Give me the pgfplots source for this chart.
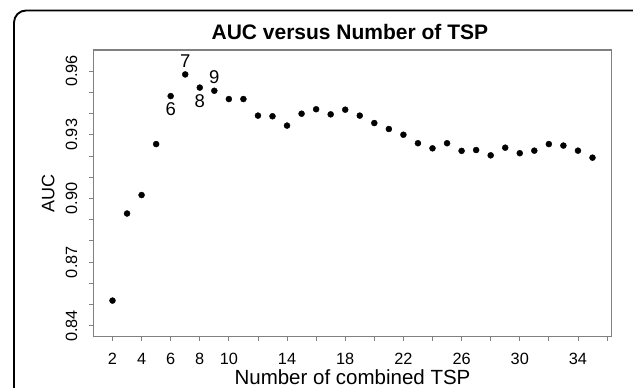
\documentclass[border=0pt]{standalone}
\usepackage{pgfplots}
\pgfplotsset{compat=1.18}
\usepackage{fontspec}
\setmainfont{Liberation Sans}
\begin{document}
\begin{tikzpicture}[x=1pt,y=1pt]
\useasboundingbox (0,0) rectangle (633,388);
\begin{scope}
\clip (0,0) rectangle (633,388);
\draw[line width=1.9pt, rounded corners=12pt] (14,377.5) rectangle (680,-40);
\end{scope}
\begin{axis}[
  at={(93.3pt,51.3pt)}, anchor=south west,
  scale only axis, width=518.4pt, height=286.7pt,
  xmin=0.68, xmax=36.32, ymin=0.8349, ymax=0.9699,
  axis line style={draw=black!50, line width=1.1pt},
  tick style={draw=black!50, line width=0.9pt},
  tick align=outside, major tick length=4pt,
  xtick pos=bottom, ytick pos=left,
  xtick={2,4,6,8,10,12,14,16,18,20,22,24,26,28,30,32,34,36},
  xticklabels={2,4,6,8,10,{},14,{},18,{},22,{},26,{},30,{},34,{}},
  ytick={0.84,0.85,0.86,0.87,0.88,0.89,0.90,0.91,0.92,0.93,0.94,0.95,0.96},
  yticklabels={0.84,{},{},0.87,{},{},0.90,{},{},0.93,{},{},0.96},
  ticklabel style={font=\fontsize{16.3}{16.3}\selectfont, inner sep=0pt},
  xticklabel shift=12.2pt,
  yticklabel style={rotate=90},
  yticklabel shift=11.8pt,
  title={AUC versus Number of TSP},
  title style={font=\fontsize{21}{21}\selectfont\bfseries, at={(axis description cs:0.495,1.042)}, anchor=center, inner sep=0pt},
  xlabel={Number of combined TSP},
  xlabel style={font=\fontsize{20.5}{20.5}\selectfont, at={(axis description cs:0.5,-0.1415)}, anchor=center, inner sep=0pt},
  ylabel={AUC},
  ylabel style={font=\fontsize{18}{18}\selectfont, at={(axis description cs:-0.0868,0.5)}, anchor=center, rotate=0, inner sep=0pt},
  clip=false,
]
\addplot[only marks, mark=*, mark size=3pt, mark options={fill=black, draw=black}] table {
x y
2 0.8519
3 0.8929
4 0.9016
5 0.9256
6 0.9482
7 0.9584
8 0.9522
9 0.9507
10 0.9468
11 0.9468
12 0.9390
13 0.9387
14 0.9343
15 0.9399
16 0.9420
17 0.9396
18 0.9418
19 0.9390
20 0.9355
21 0.9327
22 0.9300
23 0.9260
24 0.9236
25 0.9260
26 0.9224
27 0.9228
28 0.9203
29 0.9239
30 0.9213
31 0.9225
32 0.9256
33 0.9249
34 0.9225
35 0.9192
};
\addplot[draw=none, mark=none, point meta=explicit symbolic, nodes near coords,
  nodes near coords style={font=\fontsize{18.5}{18.5}\selectfont, anchor=center, inner sep=0pt, yshift=13.6pt}]
  table[meta=l] {
x y l
7 0.9584 7
9 0.9507 9
};
\addplot[draw=none, mark=none, point meta=explicit symbolic, nodes near coords,
  nodes near coords style={font=\fontsize{18.5}{18.5}\selectfont, anchor=center, inner sep=0pt, yshift=-13.3pt}]
  table[meta=l] {
x y l
6 0.9482 6
8 0.9522 8
};
\end{axis}
\end{tikzpicture}
\end{document}
